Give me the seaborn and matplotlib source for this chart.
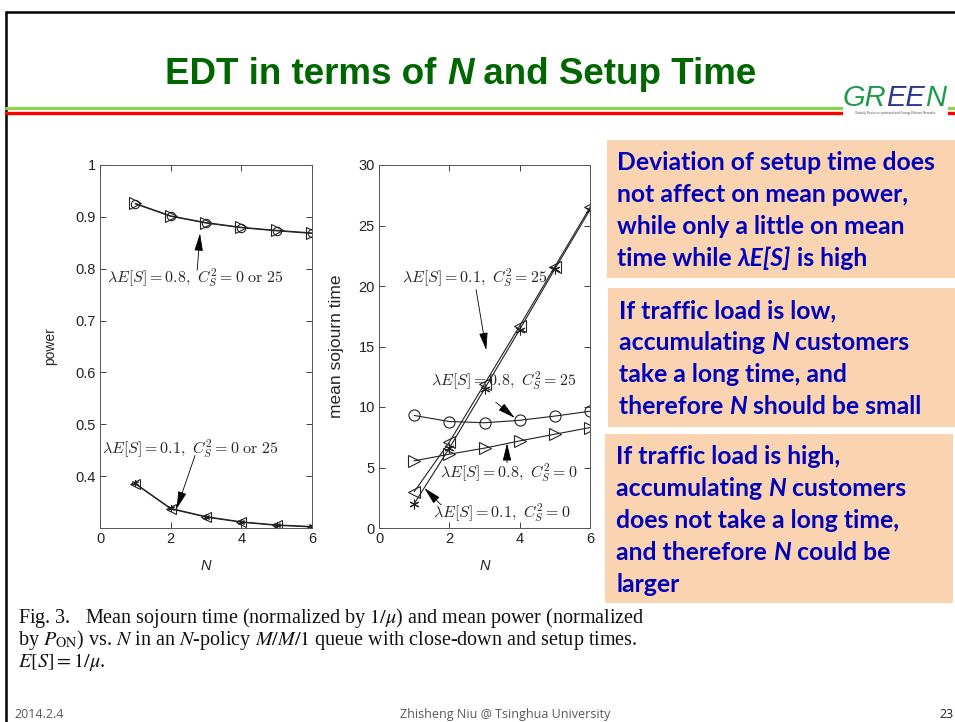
import numpy as np
import pandas as pd
import matplotlib
matplotlib.use("Agg")
import matplotlib.pyplot as plt
import seaborn as sns
from matplotlib.patches import Rectangle
from matplotlib.lines import Line2D

# ---------------- data ----------------
N = [1, 2, 3, 4, 5, 6]
power_high_c0 = [0.926, 0.902, 0.889, 0.880, 0.874, 0.869]
power_high_c25 = [0.925, 0.901, 0.888, 0.879, 0.873, 0.868]
power_low_c0 = [0.385, 0.337, 0.321, 0.311, 0.305, 0.302]
power_low_c25 = [0.386, 0.338, 0.322, 0.312, 0.306, 0.303]
time_low_c0 = [3.0, 7.1, 11.9, 16.7, 21.6, 26.5]
time_low_c25 = [2.0, 6.6, 11.5, 16.4, 21.4, 26.3]
time_high_c25 = [9.3, 8.8, 8.7, 8.9, 9.25, 9.65]
time_high_c0 = [5.55, 6.1, 6.6, 7.2, 7.75, 8.3]

power_yticks = [0.4, 0.5, 0.6, 0.7, 0.8, 0.9, 1.0]
power_yticklabels = ["0.4", "0.5", "0.6", "0.7", "0.8", "0.9", "1"]
time_yticks = [0, 5, 10, 15, 20, 25, 30]
n_xticks = [0, 2, 4, 6]

title_runs = [("EDT in terms of ", "normal"), ("N", "italic"), (" and Setup Time", "normal")]
box1_lines = [
    [("Deviation of setup time does", "normal")],
    [("not affect on mean power,", "normal")],
    [("while only a little on mean", "normal")],
    [("time while ", "normal"), ("λE[S]", "italic"), (" is high", "normal")],
]
box2_lines = [
    [("If traffic load is low,", "normal")],
    [("accumulating ", "normal"), ("N", "italic"), (" customers", "normal")],
    [("take a long time, and", "normal")],
    [("therefore ", "normal"), ("N", "italic"), (" should be small", "normal")],
]
box3_lines = [
    [("If traffic load is high,", "normal")],
    [("accumulating ", "normal"), ("N", "italic"), (" customers", "normal")],
    [("does not take a long time,", "normal")],
    [("and therefore ", "normal"), ("N", "italic"), (" could be", "normal")],
    [("larger", "normal")],
]
caption_lines = [
    r"Fig. 3.   Mean sojourn time (normalized by $1/\mu$) and mean power (normalized",
    r"by $P_{\mathrm{ON}}$) vs. $N$ in an $N$-policy $M/M/1$ queue with close-down and setup times.",
    r"$E[S] = 1/\mu$.",
]

# ---------------- figure ----------------
sns.set_theme(style="ticks")
plt.rcParams["font.family"] = ["Liberation Sans", "DejaVu Sans"]
plt.rcParams["mathtext.fontset"] = "cm"

W, H = 955, 722
fig = plt.figure(figsize=(W / 100, H / 100), dpi=100)
fig.patch.set_facecolor("white")


def fx(x):
    return x / W


def fy(y):
    return 1 - y / H


# slide frame
fig.add_artist(Line2D([fx(6), fx(6)], [fy(12), fy(722)], color="black", lw=1.8))
fig.add_artist(Line2D([fx(6), fx(955)], [fy(12), fy(12)], color="black", lw=1.8))
# header rules
fig.add_artist(Line2D([fx(6), fx(955)], [fy(108), fy(108)], color="#92D050", lw=2.4))
fig.add_artist(Line2D([fx(6), fx(955)], [fy(113), fy(113)], color="#FF0000", lw=2.4))

# ---------------- axes ----------------
ax1 = fig.add_axes([fx(100), fy(528), 212 / W, 363 / H])
ax2 = fig.add_axes([fx(379), fy(528), 211 / W, 363 / H])

line_kw = dict(color="#222222", lw=0.8, markerfacecolor="none",
               markeredgecolor="#222222", markeredgewidth=0.8)

df_p = pd.DataFrame({"N": N, "h0": power_high_c0, "h25": power_high_c25,
                     "l0": power_low_c0, "l25": power_low_c25})
sns.lineplot(data=df_p, x="N", y="h0", ax=ax1, marker=">", markersize=8, **line_kw)
sns.lineplot(data=df_p, x="N", y="h25", ax=ax1, marker="o", markersize=6, **line_kw)
sns.lineplot(data=df_p, x="N", y="l0", ax=ax1, marker="<", markersize=7, **line_kw)
sns.lineplot(data=df_p, x="N", y="l25", ax=ax1, marker=(6, 2, 0), markersize=5, **line_kw)

df_t = pd.DataFrame({"N": N, "l0": time_low_c0, "l25": time_low_c25,
                     "h25": time_high_c25, "h0": time_high_c0})
sns.lineplot(data=df_t, x="N", y="l0", ax=ax2, marker="<", markersize=8, **line_kw)
sns.lineplot(data=df_t, x="N", y="l25", ax=ax2, marker=(6, 2, 0), markersize=7, **line_kw)
sns.lineplot(data=df_t, x="N", y="h25", ax=ax2, marker="o", markersize=8, **line_kw)
sns.lineplot(data=df_t, x="N", y="h0", ax=ax2, marker=">", markersize=8, **line_kw)

for ax in (ax1, ax2):
    ax.set_xlim(0, 6)
    ax.set_xticks(n_xticks)
    ax.tick_params(direction="in", top=True, right=True, length=4, width=0.6,
                   labelsize=10.5, colors="#222222", pad=3)
    for s in ax.spines.values():
        s.set_linewidth(0.7)
        s.set_color("#555555")
    ax.set_xlabel("N", fontstyle="italic", fontsize=10.5)
    ax.xaxis.set_label_coords(0.5, -0.085)
    ax.set_facecolor("white")

ax1.set_ylim(0.3, 1.0)
ax1.set_yticks(power_yticks)
ax1.set_yticklabels(power_yticklabels)
ax1.set_ylabel("power", fontsize=10)
ax1.yaxis.set_label_coords(-0.2, 0.5)

ax2.set_ylim(0, 30)
ax2.set_yticks(time_yticks)
ax2.set_ylabel("mean sojourn time", fontsize=12.5)
ax2.yaxis.set_label_coords(-0.165, 0.5)

arrow_kw = dict(arrowstyle="-|>,head_length=0.9,head_width=0.22", color="black",
                lw=0.6, shrinkA=0, shrinkB=0)
ann_fs = 11.5

ax1.text(2.69, 0.782, r"$\lambda E[S] = 0.8,\ C_S^2 = 0\ \mathrm{or}\ 25$",
         ha="center", va="center", fontsize=ann_fs)
ax1.annotate("", xy=(2.83, 0.868), xytext=(2.75, 0.797), arrowprops=arrow_kw)
ax1.text(2.56, 0.453, r"$\lambda E[S] = 0.1,\ C_S^2 = 0\ \mathrm{or}\ 25$",
         ha="center", va="center", fontsize=ann_fs)
ax1.annotate("", xy=(2.17, 0.337), xytext=(2.69, 0.44), arrowprops=arrow_kw)

ax2.text(2.71, 20.7, r"$\lambda E[S] = 0.1,\ C_S^2 = 25$", ha="center", va="center", fontsize=ann_fs)
ax2.annotate("", xy=(3.05, 14.7), xytext=(2.76, 19.7), arrowprops=arrow_kw)
ax2.text(3.54, 12.2, r"$\lambda E[S] = 0.8,\ C_S^2 = 25$", ha="center", va="center", fontsize=ann_fs)
ax2.annotate("", xy=(3.86, 9.1), xytext=(3.32, 10.4), arrowprops=arrow_kw)
ax2.text(3.69, 4.6, r"$\lambda E[S] = 0.8,\ C_S^2 = 0$", ha="center", va="center", fontsize=ann_fs)
ax2.annotate("", xy=(3.64, 7.0), xytext=(3.64, 5.4), arrowprops=arrow_kw)
ax2.text(3.48, 1.3, r"$\lambda E[S] = 0.1,\ C_S^2 = 0$", ha="center", va="center", fontsize=ann_fs)
ax2.annotate("", xy=(1.29, 3.3), xytext=(1.77, 1.9), arrowprops=arrow_kw)

# ---------------- text helpers ----------------
fig.canvas.draw()
renderer = fig.canvas.get_renderer()


def draw_runs(runs, x, y, ha="left", colors=None, **kw):
    texts, widths = [], []
    for i, (s, style) in enumerate(runs):
        extra = {} if colors is None else {"color": colors[i]}
        t = fig.text(0, 0, s, fontstyle=style, va="baseline", **kw, **extra)
        widths.append(t.get_window_extent(renderer=renderer).width)
        texts.append(t)
    total = sum(widths)
    cx = x if ha == "left" else x - total / 2
    for t, w in zip(texts, widths):
        t.set_position((fx(cx), fy(y)))
        cx += w


# title
draw_runs(title_runs, 461, 84, ha="center", fontsize=26.5, fontweight="bold",
          color="#006600", family=["Liberation Sans"])

# logo
fig.patches.append(Rectangle((fx(843), fy(117)), 105 / W, 44 / H, transform=fig.transFigure,
                             facecolor="white", edgecolor="none", zorder=3))
draw_runs([("GR", "italic"), ("EE", "italic"), ("N", "italic")], 894, 106, ha="center",
          colors=["#1E9A4C", "#2B3990", "#1E9A4C"], fontsize=21,
          family=["Liberation Sans Narrow", "Liberation Sans"], zorder=4)
fig.text(fx(895), fy(114), "Globally Resource-optimized and Energy-Efficient Networks",
         ha="center", va="baseline", fontsize=2.2, color="#555555", zorder=4)

# text boxes
box_color = "#FAD4B0"
boxes = [
    (607, 140, 955, 278, 617, [162, 194, 226, 258], box1_lines),
    (608, 288, 955, 427, 619, [310, 342, 374, 406], box2_lines),
    (605, 434, 953, 603, 616, [456, 488, 520, 552, 584], box3_lines),
]
for x0, y0, x1, y1, tx, ys, lines in boxes:
    fig.patches.append(Rectangle((fx(x0), fy(y1)), (x1 - x0) / W, (y1 - y0) / H,
                                 transform=fig.transFigure, facecolor=box_color,
                                 edgecolor="none", zorder=1))
    for yy, runs in zip(ys, lines):
        draw_runs(runs, tx, yy + 8, ha="left", fontsize=17.8, fontweight="bold",
                  color="#0000BB", family=["Lato", "DejaVu Sans"])

# caption
for yy, line in zip([623, 645, 667], caption_lines):
    fig.text(fx(18), fy(yy), line, ha="left", va="baseline", fontsize=14.5,
             family=["Liberation Serif"], math_fontfamily="stix", color="#111111")

# footer
fig.text(fx(14), fy(718), "2014.2.4", ha="left", va="baseline", fontsize=9,
         color="#595959", family=["Open Sans"])
fig.text(fx(505), fy(718), "Zhisheng Niu @ Tsinghua University", ha="center", va="baseline",
         fontsize=9, color="#595959", family=["Open Sans"])
fig.text(fx(939), fy(718), "23", ha="left", va="baseline", fontsize=9,
         color="#222222", family=["Open Sans"])

fig.savefig("out.png", dpi=100, facecolor="white")
